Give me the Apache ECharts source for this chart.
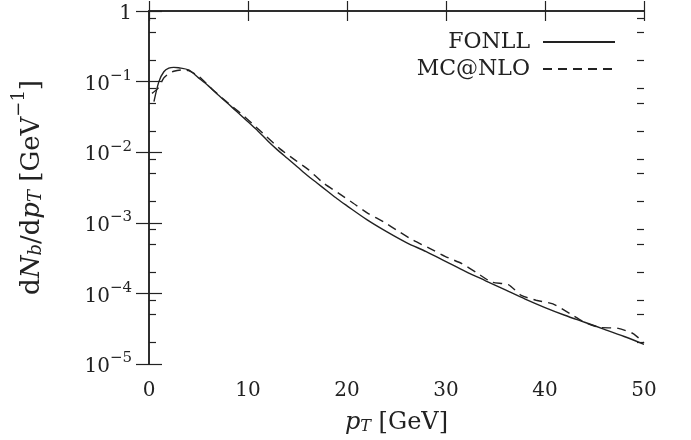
<!DOCTYPE html>
<html>
<head>
<meta charset="utf-8">
<script src="https://cdn.jsdelivr.net/npm/echarts@6/dist/echarts.min.js"></script>
<style>
  html, body { margin: 0; padding: 0; background: #fff; }
  #chart { width: 691px; height: 440px; }
</style>
</head>
<body>
<div id="chart"></div>
<script>
// p_T [GeV] and dN_b/dp_T [GeV^-1]
var ptFonll = [0.5, 1, 1.5, 2, 2.5, 3, 4, 5, 6, 7, 8, 9, 10, 11, 12, 13, 14, 15, 16, 17, 18, 19, 20, 22, 24, 26, 28, 30, 32, 34, 36, 38, 40, 42, 44, 46, 48, 50]
var fonll = [0.052, 0.100, 0.138, 0.155, 0.159, 0.157, 0.146, 0.113, 0.087, 0.0646, 0.0484, 0.0363, 0.0269, 0.0200, 0.01445, 0.0107, 0.00813, 0.00617, 0.00468, 0.00363, 0.00282, 0.00219, 0.00174, 0.00111, 0.00075, 0.000525, 0.00039, 0.000282, 0.000204, 0.000151, 0.000112, 0.000083, 0.000063, 0.000049, 0.000039, 0.000031, 0.0000245, 0.000019]

var ptMc = [0.3, 0.9, 1.5, 2, 2.5, 3.3, 4, 5, 6.3, 7.85, 9.2, 10.5, 11.9, 13.2, 14.7, 16.1, 17.6, 19.1, 20.6, 22.15, 23.7, 25.2, 26.7, 28.4, 29.9, 31.6, 33.1, 34.6, 36.3, 37.6, 39.1, 40.8, 42.5, 44, 45.5, 47.4, 48.9, 50]
var mcnlo = [0.068, 0.080, 0.113, 0.130, 0.140, 0.146, 0.143, 0.120, 0.080, 0.0517, 0.0361, 0.0249, 0.0165, 0.01125, 0.00785, 0.00566, 0.00367, 0.00265, 0.00191, 0.00135, 0.00103, 0.000757, 0.000565, 0.00043, 0.000335, 0.000264, 0.000196, 0.000145, 0.000133, 0.000094, 0.000080, 0.000071, 0.000052, 0.000039, 0.000033, 0.000032, 0.000027, 0.000020]

var minorMult = [0.8, 0.5, 0.2]

function pairs(xs, ys) {
  return xs.map(function (x, i) { return [x, ys[i]] })
}

// minor tick positions in log10 space (for the helper axes)
var minorPos = []
for (var d = -5; d < 0; d++) {
  minorMult.forEach(function (m) { minorPos.push(d + 1 + Math.log10(m)) })
}

var font = 'DejaVu Serif'
var ink = '#222'

// rich styles for tick labels
var tickRich = {
  n: { fontFamily: font, fontSize: 20, color: ink, lineHeight: 26, verticalAlign: 'bottom' },
  sup: { fontFamily: font, fontSize: 15, color: ink, lineHeight: 26, verticalAlign: 'top', padding: [0, 0, 12, 0] }
}

// rich styles for axis titles
function nameRich(size) {
  var small = Math.round(size * 0.68)
  var lh = Math.round(size * 1.35)
  return {
    n: { fontFamily: font, fontSize: size, color: ink, lineHeight: lh, verticalAlign: 'bottom' },
    i: { fontFamily: font, fontSize: size, fontStyle: 'italic', color: ink, lineHeight: lh, verticalAlign: 'bottom' },
    sup: { fontFamily: font, fontSize: small, color: ink, lineHeight: lh, verticalAlign: 'top', padding: [0, 0, Math.round(size * 0.5), 0] },
    sub: { fontFamily: font, fontSize: small, fontStyle: 'italic', color: ink, lineHeight: lh, verticalAlign: 'bottom', padding: [Math.round(size * 0.3), 0, 0, 0] }
  }
}

function logLabel(v) {
  var e = Math.round(Math.log10(v))
  if (e === 0) return '{n|1}'
  return '{n|10}{sup|\u2212' + (-e) + '}'
}

var chart = echarts.init(document.getElementById('chart'))

var option = {
  animation: false,
  grid: { left: 149, right: 47, top: 11, bottom: 76 },
  legend: {
    orient: 'vertical',
    right: 70,
    top: 26,
    align: 'right',
    itemWidth: 72,
    itemHeight: 10,
    itemGap: 5,
    itemStyle: { opacity: 0 },
    textStyle: { fontFamily: font, fontSize: 22, color: ink, padding: [0, 8, 0, 0] },
    data: ['FONLL', 'MC@NLO']
  },
  xAxis: [
    {
      type: 'value', min: 0, max: 50, interval: 10, position: 'bottom',
      axisLine: { lineStyle: { color: ink, width: 1.5 } },
      axisTick: { inside: true, length: 10, lineStyle: { color: ink, width: 1.2 } },
      axisLabel: { fontFamily: font, fontSize: 20, color: ink, margin: 17 },
      splitLine: { show: false },
      name: '{i|p}{sub|T}{n| [GeV]}',
      nameLocation: 'middle',
      nameGap: 39,
      nameTextStyle: { rich: nameRich(24) }
    },
    {
      type: 'value', min: 0, max: 50, interval: 10, position: 'top',
      axisLine: { lineStyle: { color: ink, width: 1.5 } },
      axisTick: { inside: true, length: 10, lineStyle: { color: ink, width: 1.2 } },
      axisLabel: { show: false },
      splitLine: { show: false }
    }
  ],
  yAxis: [
    {
      type: 'log', logBase: 10, min: 1e-5, max: 1, position: 'left',
      axisLine: { lineStyle: { color: ink, width: 1.5 } },
      axisTick: { inside: true, length: 13, lineStyle: { color: ink, width: 1.2 } },
      axisLabel: { formatter: logLabel, rich: tickRich, margin: 17 },
      splitLine: { show: false },
      name: '{n|d}{i|N}{sub|b}{n|/d}{i|p}{sub|T}{n| [GeV}{sup|\u22121}{n|]}',
      nameLocation: 'middle',
      nameGap: 104,
      nameRotate: 90,
      nameTextStyle: { rich: nameRich(26) }
    },
    {
      type: 'log', logBase: 10, min: 1e-5, max: 1, position: 'right',
      axisLine: { lineStyle: { color: ink, width: 1.5 } },
      axisTick: { inside: true, length: 13, lineStyle: { color: ink, width: 1.2 } },
      axisLabel: { show: false },
      splitLine: { show: false }
    },
    {
      type: 'value', min: -5, max: 0, position: 'left',
      axisLine: { show: false },
      axisTick: { inside: true, length: 7, customValues: minorPos, lineStyle: { color: ink, width: 1.2 } },
      axisLabel: { show: false },
      splitLine: { show: false }
    },
    {
      type: 'value', min: -5, max: 0, position: 'right',
      axisLine: { show: false },
      axisTick: { inside: true, length: 7, customValues: minorPos, lineStyle: { color: ink, width: 1.2 } },
      axisLabel: { show: false },
      splitLine: { show: false }
    }
  ],
  series: [
    {
      name: 'FONLL', type: 'line', xAxisIndex: 0, yAxisIndex: 0,
      data: pairs(ptFonll, fonll),
      smooth: 0.3, symbol: 'none', showSymbol: false,
      lineStyle: { color: ink, width: 1.4, type: 'solid' },
      itemStyle: { color: ink }
    },
    {
      name: 'MC@NLO', type: 'line', xAxisIndex: 0, yAxisIndex: 0,
      data: pairs(ptMc, mcnlo),
      smooth: 0.2, symbol: 'none', showSymbol: false,
      lineStyle: { color: ink, width: 1.4, type: [9, 6] },
      itemStyle: { color: ink }
    }
  ]
}

chart.setOption(option)
</script>
</body>
</html>
